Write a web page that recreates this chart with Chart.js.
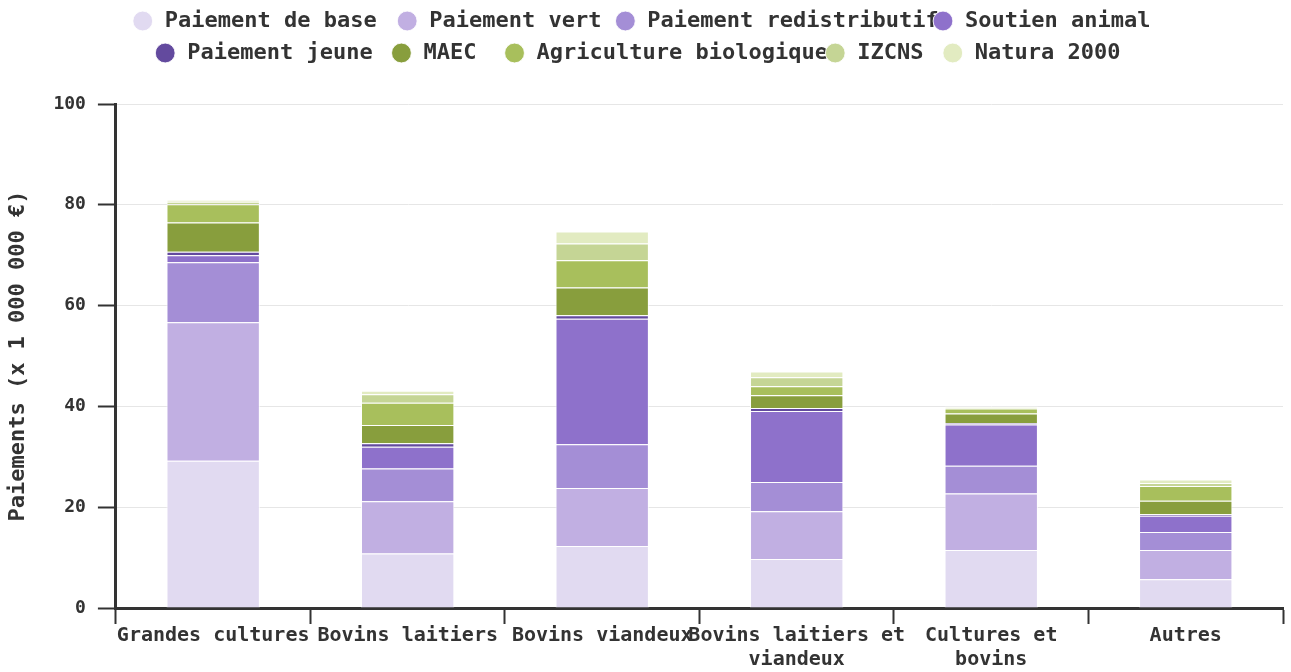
<!DOCTYPE html>
<html>
<head>
<meta charset="utf-8">
<script src="https://cdn.jsdelivr.net/npm/chart.js@4.4.0/dist/chart.umd.min.js"></script>
<style>
  html, body { margin: 0; padding: 0; background: #fff; }
  #wrap { width: 1291px; height: 672px; }
</style>
</head>
<body>
<div id="wrap"><canvas id="paiementsChart"></canvas></div>
<script>
// Data (x 1 000 000 €)
const categories = ['Grandes cultures', 'Bovins laitiers', 'Bovins viandeux', ['Bovins laitiers et', 'viandeux'], ['Cultures et', 'bovins'], 'Autres'];
const paiementBase = [29.2, 10.8, 12.3, 9.7, 11.5, 5.7];
const paiementVert = [27.5, 10.4, 11.5, 9.5, 11.2, 5.8];
const paiementRedistributif = [11.9, 6.5, 8.7, 5.8, 5.5, 3.6];
const soutienAnimal = [1.4, 4.3, 24.9, 14.1, 8.2, 3.2];
const paiementJeune = [0.7, 0.7, 0.7, 0.6, 0.3, 0.3];
const maec = [5.8, 3.6, 5.5, 2.5, 1.9, 2.7];
const agricultureBio = [3.6, 4.4, 5.4, 1.8, 1.0, 2.9];
const izcns = [0.5, 1.7, 3.3, 1.8, 0.2, 0.6];
const natura2000 = [0.4, 0.7, 2.4, 1.1, 0.2, 0.7];
const yTicks = [0, 20, 40, 60, 80, 100];

const series = [
    { label: 'Paiement de base', data: paiementBase, color: '#e1daf1' },
    { label: 'Paiement vert', data: paiementVert, color: '#c1afe2' },
    { label: 'Paiement redistributif', data: paiementRedistributif, color: '#a48ed6' },
    { label: 'Soutien animal', data: soutienAnimal, color: '#8e71cb' },
    { label: 'Paiement jeune', data: paiementJeune, color: '#634a9e' },
    { label: 'MAEC', data: maec, color: '#889e3d' },
    { label: 'Agriculture biologique', data: agricultureBio, color: '#a8bf5c' },
    { label: 'IZCNS', data: izcns, color: '#c5d595' },
    { label: 'Natura 2000', data: natura2000, color: '#e2ebc1' }
];

const mono = 'DejaVu Sans Mono';
const textColor = '#333333';
const legendGap = 30;
const legendRowWidth = 1260;

// measure legend text in the proportional font while painting it in monospace,
// so long labels run into the next item like in the original
function withSansMeasure(c, fn) {
    const measure = c.measureText;
    c.measureText = function(text) {
        const font = c.font;
        c.font = font.replace('Sans Mono', 'Sans');
        const m = measure.call(c, text);
        c.font = font;
        return m;
    };
    try { fn(); } finally { delete c.measureText; }
}

const legendLook = {
    id: 'legendLook',
    afterInit(chart) {
        const legend = chart.legend;
        const fit = legend.fit;
        const draw = legend.draw;
        legend.fit = function() {
            this.maxWidth = Math.min(this.maxWidth, legendRowWidth);
            withSansMeasure(this.ctx, () => fit.call(this));
            this.height += legendGap;
        };
        legend.draw = function(area) {
            withSansMeasure(this.ctx, () => draw.call(this, area));
        };
    }
};

const ctx = document.getElementById('paiementsChart').getContext('2d');
new Chart(ctx, {
    type: 'bar',
    data: {
        labels: categories,
        datasets: series.map(s => ({
            label: s.label,
            data: s.data,
            backgroundColor: s.color,
            borderColor: 'rgba(255,255,255,0.85)',
            borderWidth: 1,
            categoryPercentage: 0.8,
            barPercentage: 0.6
        }))
    },
    options: {
        responsive: true,
        maintainAspectRatio: false,
        animation: false,
        layout: { padding: { top: 0, right: 8, bottom: 0, left: 0 } },
        scales: {
            x: {
                stacked: true,
                grid: { drawOnChartArea: false, tickColor: textColor, tickLength: 16, tickWidth: 2 },
                border: { color: textColor, width: 3 },
                ticks: {
                    color: textColor,
                    font: { family: mono, size: 20, weight: 'bold' },
                    maxRotation: 0,
                    autoSkip: false,
                    padding: 0
                }
            },
            y: {
                stacked: true,
                min: 0,
                max: 100,
                afterBuildTicks: axis => { axis.ticks = yTicks.map(v => ({ value: v })); },
                grid: { color: '#e6e6e6', tickColor: textColor, tickLength: 18, tickWidth: 2 },
                border: { color: textColor, width: 3 },
                ticks: {
                    color: textColor,
                    font: { family: mono, size: 18, weight: 'bold' },
                    padding: 12
                },
                title: {
                    display: true,
                    text: 'Paiements (x 1 000 000 €)',
                    color: textColor,
                    font: { family: mono, size: 22, weight: 'bold' },
                    padding: { top: 5, bottom: 10 }
                }
            }
        },
        plugins: {
            legend: {
                position: 'top',
                labels: {
                    color: textColor,
                    usePointStyle: true,
                    pointStyle: 'circle',
                    boxWidth: 22,
                    boxHeight: 14,
                    padding: 10,
                    font: { family: mono, size: 22, weight: 'bold' }
                }
            }
        }
    },
    plugins: [legendLook]
});
</script>
</body>
</html>
